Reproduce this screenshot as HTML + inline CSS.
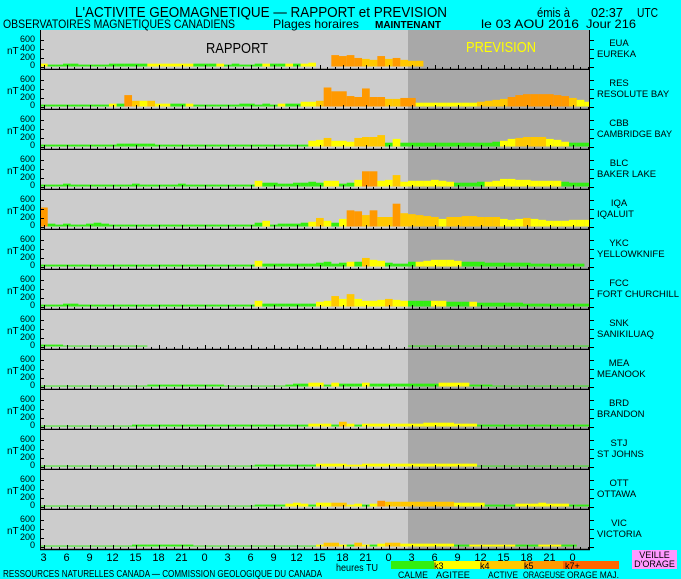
<!DOCTYPE html>
<html><head><meta charset="utf-8"><style>
html,body{margin:0;padding:0;background:#00ffff;}
svg{display:block;font-family:"Liberation Sans",sans-serif;}
</style></head><body>
<svg id="s" width="681" height="579" xmlns="http://www.w3.org/2000/svg">
<rect width="681" height="579" fill="#00ffff"/>
<g id="panels"></g>
<g fill="#000">
<text x="75" y="17" font-size="15" textLength="372" lengthAdjust="spacingAndGlyphs">L'ACTIVITE GEOMAGNETIQUE — RAPPORT et PREVISION</text>
<text x="537" y="17" font-size="13" textLength="33" lengthAdjust="spacingAndGlyphs">émis à</text>
<text x="591" y="17" font-size="13" textLength="32" lengthAdjust="spacingAndGlyphs">02:37</text>
<text x="637" y="17" font-size="13" textLength="21" lengthAdjust="spacingAndGlyphs">UTC</text>
<text x="3" y="28" font-size="12" textLength="232" lengthAdjust="spacingAndGlyphs">OBSERVATOIRES MAGNETIQUES CANADIENS</text>
<text x="273" y="28" font-size="12" textLength="86" lengthAdjust="spacingAndGlyphs">Plages horaires</text>
<text x="375" y="28" font-size="10" font-weight="bold" textLength="66" lengthAdjust="spacingAndGlyphs">MAINTENANT</text>
<text x="481" y="28" font-size="12" textLength="98" lengthAdjust="spacingAndGlyphs">le 03 AOU 2016</text>
<text x="586" y="28" font-size="12" textLength="50" lengthAdjust="spacingAndGlyphs">Jour 216</text>
<text x="206" y="53" font-size="15" textLength="62" lengthAdjust="spacingAndGlyphs">RAPPORT</text>
</g>
<text x="466" y="52" font-size="15" fill="#ffff00" textLength="70" lengthAdjust="spacingAndGlyphs">PREVISION</text>
<g font-size="10" fill="#000">
<text x="3" y="577" textLength="319" lengthAdjust="spacingAndGlyphs">RESSOURCES NATURELLES CANADA — COMMISSION GEOLOGIQUE DU CANADA</text>
<text x="336" y="571" textLength="42" lengthAdjust="spacingAndGlyphs">heures TU</text>
</g>
<rect x="391" y="561" width="43" height="8" fill="#33ee11"/>
<rect x="434" y="561" width="46" height="8" fill="#ffff00"/>
<rect x="480" y="561" width="44" height="8" fill="#ffc800"/>
<rect x="524" y="561" width="39" height="8" fill="#ff9900"/>
<rect x="563" y="561" width="56" height="8" fill="#ff6600"/>
<g font-size="9" fill="#000">
<text x="434" y="569">k3</text><text x="480" y="569">k4</text><text x="524" y="569">k5</text><text x="565" y="569">k7+</text>
<text x="398" y="578" textLength="30" lengthAdjust="spacingAndGlyphs">CALME</text>
<text x="436" y="578" textLength="34" lengthAdjust="spacingAndGlyphs">AGITEE</text>
<text x="488" y="578" textLength="30" lengthAdjust="spacingAndGlyphs">ACTIVE</text>
<text x="523" y="578" textLength="42" lengthAdjust="spacingAndGlyphs">ORAGEUSE</text>
<text x="567" y="578" textLength="52" lengthAdjust="spacingAndGlyphs">ORAGE MAJ.</text>
</g>
<rect x="632" y="550" width="45" height="19" fill="#ff99ff"/>
<g font-size="9" fill="#000" text-anchor="middle">
<text x="654.5" y="558">VEILLE</text><text x="654.5" y="567">D'ORAGE</text>
</g>
<g font-size="11" fill="#000" text-anchor="middle">
<text x="43.5" y="561">3</text><text x="66.5" y="561">6</text><text x="89.5" y="561">9</text><text x="112.5" y="561">12</text><text x="135.5" y="561">15</text><text x="158.5" y="561">18</text><text x="181.5" y="561">21</text><text x="204.5" y="561">0</text>
<text x="227.5" y="561">3</text><text x="250.5" y="561">6</text><text x="273.5" y="561">9</text><text x="296.5" y="561">12</text><text x="319.5" y="561">15</text><text x="342.5" y="561">18</text><text x="365.5" y="561">21</text><text x="388.5" y="561">0</text>
<text x="411.5" y="561">3</text><text x="434.5" y="561">6</text><text x="457.5" y="561">9</text><text x="480.5" y="561">12</text><text x="503.5" y="561">15</text><text x="526.5" y="561">18</text><text x="549.5" y="561">21</text><text x="572.5" y="561">0</text>
</g>
<g font-size="9.5" fill="#000">
<text x="619" y="46" text-anchor="middle">EUA</text><text x="597" y="57">EUREKA</text>
<text x="619" y="86" text-anchor="middle">RES</text><text x="597" y="97">RESOLUTE BAY</text>
<text x="619" y="126" text-anchor="middle">CBB</text><text x="597" y="137" textLength="75" lengthAdjust="spacingAndGlyphs">CAMBRIDGE BAY</text>
<text x="619" y="166" text-anchor="middle">BLC</text><text x="597" y="177">BAKER LAKE</text>
<text x="619" y="206" text-anchor="middle">IQA</text><text x="597" y="217">IQALUIT</text>
<text x="619" y="246" text-anchor="middle">YKC</text><text x="597" y="257">YELLOWKNIFE</text>
<text x="619" y="286" text-anchor="middle">FCC</text><text x="597" y="297" textLength="82" lengthAdjust="spacingAndGlyphs">FORT CHURCHILL</text>
<text x="619" y="326" text-anchor="middle">SNK</text><text x="597" y="337">SANIKILUAQ</text>
<text x="619" y="366" text-anchor="middle">MEA</text><text x="597" y="377">MEANOOK</text>
<text x="619" y="406" text-anchor="middle">BRD</text><text x="597" y="417">BRANDON</text>
<text x="619" y="446" text-anchor="middle">STJ</text><text x="597" y="457">ST JOHNS</text>
<text x="619" y="486" text-anchor="middle">OTT</text><text x="597" y="497">OTTAWA</text>
<text x="619" y="526" text-anchor="middle">VIC</text><text x="597" y="537">VICTORIA</text>
</g>
<g id="ylab" font-size="9" fill="#000" text-anchor="end"></g>
</svg>
<script>
var D=[
"y3 g2*2 g3*2 g2*4 g3*3 g3*2 y3*3 y3*3 g3*3 y3 g2 g3 g2*2 g3 y3 g3*2 y3 g3 y3 y4 -0*2 o12 o11 o12 o9 a8 a7 o11 a8 o9 a7 a6 a6",
"g2*9 y3 g3 o12 a6 y6 a6 y3 y3 g3 g3 y3 g2*6 g3*2 g2 g3 g2 y3 g3*2 y5*2 a6 o20 o16*2 o11 o10 o19 o10*2 a8*2 o9*2 y4*8 a5 a6 a7 a8 o10 o12 o13*4 o12 o11 a9 y7 y5*2 y4",
"g2*10 g3*5 g2*20 y6 y7 a9 y6 y6 y5 a9 a10 a10 a12 g4 y8 g4 g4*11 g5 y6 y8 a9 a10*3 y8 y7 y5 g4*3",
"g2*3 g3 g2*8 g3 g2*5 g3 g2*9 y6 g4*2 g3 g3 g4*2 g5 g4 y6*2 g3 g4 y7 o16*2 y6 y7 a12 y5 y6*3 y7 y6 y5 g4*3 g5 y5 y6 y8*2 y7*2 y6*4 g5 g4*3",
"o20 g3 g2 g3 g2*2 g3 g4 g3 g2*19 g4 y6 g2 g3*3 g4 y5 a9 y6 g4 y8 o17 o16 a12 o17 a10 a10 o24 a14 a13 a12 a11 a10 y8 a10*2 a11*2 a10*3 y8 y7 y8 a9 y8 y7 y6*3 y7*3",
"g2*28 y6 g3*7 g4 g5 g3 g4 y5 g5 a9 y7 y6 g4 g3 g3 g5 y5 y6 y7*3 y6 g5*3 g4*6 g3*7",
"g2*3 g3*2 g2*23 y6 g3*7 y5 y6 a11 y8 a13 y8 y6 y6 y7 a8 y7 y6 g6*3 y6*2 g5*3 y5 g4*6 g3*9",
"g2*3 g1*11 -0*34 g1*24",
"g1*14 g2*10 g1*8 g2 g3*2 y4*2 g2 y4 g3*3 y4 g3*5 g3*4 y4*4 g2*3 g1*13",
"g1*12 g2*20 g2*3 y3*3 g2 a5 y3 g2 y3*6 y3*2 y4*4 y3*3 g2*15",
"g1*28 g2*8 y3*4 y2*2 y3*6 y3*9 g1*15",
"g1*28 g2*4 y3 y4 y3 g2 y4*2 a4*2 y2 y3 g2 y3 o6 a5*3 a5*6 y4*4 g2*4 y3*3 y4 y3*3 g2*3",
"g1*12 g2*8 g1*16 y2 a4*2 y2 g2 a4 y2 g2 y3 a4 a4 y3 y3*6 g2 g2 y2*6 g2*3 y2*3 g2 g2"
];
var C={g:"#33ee11",y:"#ffff00",a:"#ffc800",o:"#ff9900"};
var G=document.getElementById("panels"),h="",yl="";
var W=368/48;
for(var p=0;p<13;p++){
 var T=30+40*p;
 h+='<rect x="40" y="'+T+'" width="368" height="40" fill="#cccccc"/>';
 h+='<rect x="408" y="'+T+'" width="182" height="40" fill="#a8a8a8"/>';
 var toks=D[p].split(" "),i=0;
 toks.forEach(function(t){var c=t[0],r=t.slice(1).split("*"),v=parseFloat(r[0])*0.95,n=r[1]?parseInt(r[1]):1;
  for(var k=0;k<n;k++){ if(c!="-"&&i<72){var x=40+i*W,w=Math.min(W,590-x);
   if(w>0)h+='<rect x="'+x.toFixed(2)+'" y="'+(T+36.5-v).toFixed(2)+'" width="'+(w+0.05).toFixed(2)+'" height="'+v.toFixed(2)+'" fill="'+C[c]+'"/>';}
   i++;}});
 h+='<line x1="40" y1="'+(T+39.5)+'" x2="590" y2="'+(T+39.5)+'" stroke="#000" stroke-width="1.5"/>';
 h+='<line x1="40.5" y1="'+T+'" x2="40.5" y2="'+(T+40)+'" stroke="#000"/>';
 h+='<line x1="589.5" y1="'+T+'" x2="589.5" y2="'+(T+40)+'" stroke="#000"/>';
 [10,19,28,37].forEach(function(d){h+='<line x1="40" y1="'+(T+d+0.5)+'" x2="44" y2="'+(T+d+0.5)+'" stroke="#000"/>';
   h+='<line x1="590" y1="'+(T+d+0.5)+'" x2="594" y2="'+(T+d+0.5)+'" stroke="#000"/>';});
 for(var j=0;j<72;j++){var x=Math.round(43.5+j*W)+0.5; if(x>589)break;
   var y1=(j%3==0)?T+35:T+37; h+='<line x1="'+x+'" y1="'+y1+'" x2="'+x+'" y2="'+(T+39.5)+'" stroke="#000"/>';}
 yl+='<text x="35" y="'+(T+12)+'">600</text><text x="35" y="'+(T+21)+'">400</text><text x="35" y="'+(T+30)+'">200</text><text x="35" y="'+(T+38)+'">0</text><text x="7" y="'+(T+24)+'" text-anchor="start" font-size="10">nT</text>';
}
G.innerHTML=h;
document.getElementById("ylab").innerHTML=yl;
</script>
</body></html>
